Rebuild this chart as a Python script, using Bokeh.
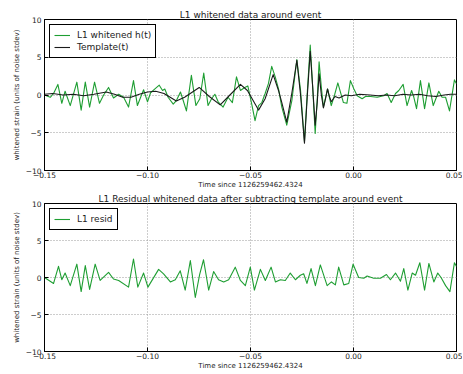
from bokeh.plotting import figure
from bokeh.layouts import column
from bokeh.models import FixedTicker, CustomJSTickFormatter, Legend, LegendItem
from bokeh.embed import file_html
from bokeh.resources import INLINE

# ---- data ----
t_data = [-0.1500, -0.1472, -0.1456, -0.1435, -0.1416, -0.1400, -0.1375, -0.1343, -0.1322, -0.1302,
          -0.1281, -0.1257, -0.1233, -0.1213, -0.1189, -0.1165, -0.1140, -0.1116, -0.1092, -0.1068,
          -0.1049, -0.1019, -0.1000, -0.0985, -0.0964, -0.0943, -0.0927, -0.0916, -0.0900, -0.0875,
          -0.0859, -0.0840, -0.0827, -0.0811, -0.0787, -0.0765, -0.0746, -0.0727, -0.0706, -0.0689,
          -0.0673, -0.0657, -0.0633, -0.0609, -0.0588, -0.0568, -0.0549, -0.0528, -0.0513, -0.0494,
          -0.0478, -0.0461, -0.0445, -0.0429, -0.0413, -0.0397, -0.0380, -0.0364, -0.0348, -0.0324,
          -0.0299, -0.0275, -0.0257, -0.0238, -0.0224, -0.0210, -0.0198, -0.0186, -0.0176, -0.0167,
          -0.0156, -0.0146, -0.0126, -0.0108, -0.0092, -0.0076, -0.0049, -0.0032, -0.0015, 0.0002,
          0.0018, 0.0042, 0.0058, 0.0083, 0.0115, 0.0147, 0.0163, 0.0183, 0.0204, 0.0220,
          0.0241, 0.0260, 0.0282, 0.0293, 0.0306, 0.0325, 0.0345, 0.0366, 0.0387, 0.0414,
          0.0430, 0.0447, 0.0466, 0.0490, 0.0500]
h_data = [0.0, -0.3, 0.2, 1.4, -1.1, 0.5, -1.4, 1.7, -2.0, 1.7,
          -1.6, 1.7, -1.1, 0.0, 1.0, -0.4, 0.1, -0.3, -1.6, 1.9,
          -1.4, 0.7, -0.9, 0.3, 0.8, 1.3, 0.6, 0.8, -0.3, -1.2,
          -0.7, 0.4, -0.7, -2.1, 2.6, -1.4, -0.5, 2.9, -1.4, -0.5,
          0.1, -0.9, -1.6, -0.3, -1.0, 2.4, 0.6, 1.0, 1.2, -1.2,
          -3.4, -1.4, -1.0, 0.2, 1.5, 3.8, 2.4, 0.8, -1.6, -4.0,
          -0.7, 4.7, 0.6, -6.2, 0.5, 6.6, 1.0, -5.1, -0.5, 4.4,
          1.0, -1.6, 0.8, -1.4, 0.0, 1.6, -1.0, -1.1, 1.9, 0.8,
          -0.1, -0.5, -0.2, -0.2, -0.3, -0.1, 0.2, -1.0, 0.2, 0.6,
          1.4, -1.4, 0.6, -0.3, -1.8, 1.9, -1.8, 1.6, -1.4, 0.5,
          -0.3, -0.3, -2.1, 2.0, 1.5]

t_tmpl = [-0.150, -0.146, -0.141, -0.136, -0.131, -0.126, -0.120, -0.116, -0.112, -0.108,
          -0.104, -0.100, -0.096, -0.092, -0.086, -0.082, -0.0787, -0.0749, -0.070, -0.0647,
          -0.060, -0.0549, -0.0515, -0.0461, -0.0429, -0.0390, -0.0364, -0.0348, -0.0324, -0.0299,
          -0.0275, -0.0257, -0.0238, -0.0224, -0.0210, -0.0198, -0.0186, -0.0176, -0.0167, -0.0156,
          -0.0146, -0.0136, -0.0126, -0.0117, -0.0108, -0.0090, -0.0070, -0.0040, -0.0010, 0.0030,
          0.0080, 0.0120, 0.0160, 0.0200, 0.0240, 0.0280, 0.0320, 0.0360, 0.0400, 0.0440,
          0.0470, 0.0500]
h_tmpl = [0.1, 0.2, 0.0, 0.1, -0.1, 0.1, 0.4, 0.1, -0.3, -0.3,
          0.1, 0.4, 0.5, 0.2, -0.8, -0.3, 0.3, 1.0, -0.2, -1.3,
          0.0, 1.4, 0.6, -2.0, -0.5, 2.7, 0.6, -1.0, -3.6, 0.3,
          4.6, 0.0, -6.4, 0.0, 5.8, 1.0, -4.0, -1.0, 2.8, 0.0,
          -1.7, -0.5, 0.8, -0.2, -0.9, -0.2, -0.4, 0.0, -0.1, 0.1,
          0.0, -0.1, 0.0, -0.1, 0.1, 0.0, 0.1, -0.1, -0.2, 0.0,
          0.1, 0.1]

t_resid = [-0.1500, -0.1456, -0.1432, -0.1416, -0.1400, -0.1375, -0.1343, -0.1322, -0.1302, -0.1281,
           -0.1254, -0.1230, -0.1189, -0.1165, -0.1140, -0.1092, -0.1068, -0.1047, -0.1019, -0.0998,
           -0.0946, -0.0922, -0.0889, -0.0865, -0.0841, -0.0817, -0.0792, -0.0768, -0.0747, -0.0728,
           -0.0703, -0.0679, -0.0655, -0.0630, -0.0606, -0.0574, -0.0549, -0.0525, -0.0501, -0.0481,
           -0.0452, -0.0428, -0.0400, -0.0379, -0.0355, -0.0331, -0.0307, -0.0282, -0.0258, -0.0242,
           -0.0226, -0.0206, -0.0185, -0.0161, -0.0128, -0.0107, -0.0088, -0.0072, -0.0047, -0.0023,
           -0.0002, 0.0025, 0.0050, 0.0066, 0.0098, 0.0131, 0.0160, 0.0179, 0.0204, 0.0228,
           0.0244, 0.0264, 0.0285, 0.0301, 0.0322, 0.0345, 0.0366, 0.0390, 0.0409, 0.0425,
           0.0447, 0.0468, 0.0490, 0.0500]
h_resid = [0.0, -0.8, 1.5, -0.3, 0.6, -1.1, 1.8, -1.9, 1.6, -1.6,
           1.8, -0.4, 0.7, -0.2, -0.4, -1.3, 2.5, -1.3, 0.6, -1.3,
           1.1, 0.5, -0.6, -0.3, 0.9, -1.7, 2.3, -2.7, 0.4, 2.4,
           -1.7, 0.8, -0.3, -0.6, -0.3, 1.4, -0.4, -1.1, 1.4, -1.7,
           1.1, -0.4, 1.4, -0.6, -0.3, -0.4, 0.6, -0.3, 0.3, 0.5,
           -0.8, 1.2, -1.1, 1.7, -1.1, -0.6, -1.0, 1.4, -1.0, -0.8,
           1.8, 0.0, -0.1, 0.2, -0.1, -0.1, 0.4, -0.3, 0.6, -0.5,
           1.2, -1.7, 0.6, 0.3, 2.0, -1.7, 1.9, -0.6, 0.6, 0.0,
           -1.1, -1.9, 2.0, 1.5]

x_ticks = [-0.15, -0.10, -0.05, 0.00, 0.05]
y_ticks = [-10, -5, 0, 5, 10]
x_label = "Time since 1126259462.4324"
y_label = "whitened strain (units of noise stdev)"
title_top = "L1 whitened data around event"
title_bot = "L1 Residual whitened data after subtracting template around event"

GREEN = "#1e9e32"
FONT = "DejaVu Sans"


def make_fig(title, frame_h, top):
    p = figure(frame_width=412, frame_height=frame_h, x_range=(-0.15, 0.05), y_range=(-10, 10),
               output_backend="svg", toolbar_location=None,
               min_border_left=44, min_border_right=6, min_border_top=top,
               min_border_bottom=0)
    p.title.text = title
    p.title.align = "center"
    p.title.text_font = FONT
    p.title.text_font_size = "9px"
    p.title.text_font_style = "normal"
    p.title.text_color = "#222222"
    p.title.standoff = 0
    p.title.offset = 0
    p.outline_line_color = "black"
    p.outline_line_width = 1
    p.outline_line_alpha = 1
    p.background_fill_color = "white"
    p.border_fill_color = "white"
    for ax in (p.xaxis[0], p.yaxis[0]):
        ax.major_label_text_font = FONT
        ax.major_label_text_font_size = "7.5px"
        ax.major_label_text_color = "#222222"
        ax.axis_label_text_font = FONT
        ax.axis_label_text_font_size = "7px"
        ax.axis_label_text_font_style = "normal"
        ax.axis_label_text_color = "#222222"
        ax.major_tick_in = 4
        ax.major_tick_out = 0
        ax.minor_tick_line_color = None
        ax.axis_line_color = "black"
    p.xaxis[0].major_label_standoff = 1
    p.xaxis[0].axis_label_standoff = 0
    p.yaxis[0].major_label_standoff = 3
    p.yaxis[0].axis_label_standoff = 2
    p.xaxis[0].ticker = FixedTicker(ticks=x_ticks)
    p.yaxis[0].ticker = FixedTicker(ticks=y_ticks)
    p.xaxis[0].formatter = CustomJSTickFormatter(
        code="return tick.toFixed(2).replace('-', '\u2212');")
    p.yaxis[0].formatter = CustomJSTickFormatter(
        code="return tick.toFixed(0).replace('-', '\u2212');")
    p.xaxis[0].axis_label = x_label
    p.yaxis[0].axis_label = y_label
    p.grid.grid_line_color = "#9a9a9a"
    p.grid.grid_line_dash = "1 2"
    p.grid.grid_line_width = 1
    return p


p1 = make_fig(title_top, 151, 19)
r1 = p1.line(t_data, h_data, line_color=GREEN, line_width=1.1, line_join="round")
r2 = p1.line(t_tmpl, h_tmpl, line_color="#1a1a1a", line_width=1.1, line_join="round")
leg1 = Legend(items=[LegendItem(label="L1 whitened h(t)", renderers=[r1]),
                     LegendItem(label="Template(t)", renderers=[r2])],
              location="top_left")

p2 = make_fig(title_bot, 148, 8)
r3 = p2.line(t_resid, h_resid, line_color=GREEN, line_width=1.1, line_join="round")
leg2 = Legend(items=[LegendItem(label="L1 resid", renderers=[r3])], location="top_left")

for p, leg in ((p1, leg1), (p2, leg2)):
    leg.border_line_color = "black"
    leg.border_line_width = 1
    leg.border_line_alpha = 1
    leg.background_fill_color = "white"
    leg.background_fill_alpha = 1
    leg.label_text_font = FONT
    leg.label_text_font_size = "9px"
    leg.label_text_color = "#222222"
    leg.label_height = 12
    leg.glyph_height = 12
    leg.glyph_width = 16
    leg.label_standoff = 7
    leg.spacing = 0
    leg.padding = 4
    leg.margin = 5
    p.add_layout(leg, "center")

layout = column(p1, p2, spacing=0)

open("out.html", "w").write(file_html(layout, INLINE))
